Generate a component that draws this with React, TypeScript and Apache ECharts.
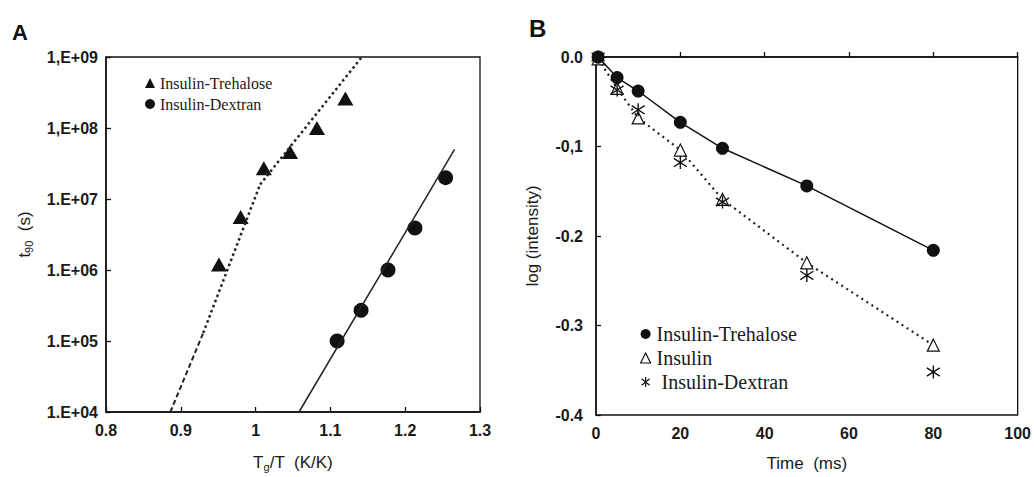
import React, { useEffect, useRef } from "react";
import * as echarts from "echarts";

// ---------- Panel A data ----------
const xTickLabelsA = ["0.8", "0.9", "1", "1.1", "1.2", "1.3"];
const yTickLabelsA = ["1.E+04", "1.E+05", "1.E+06", "1.E+07", "1,E+08", "1,E+09"];
const trehaloseTg = [0.951, 0.98, 1.011, 1.046, 1.082, 1.12];
const trehaloseT90 = [1.2e6, 5.6e6, 2.7e7, 4.6e7, 1.0e8, 2.6e8];
const dextranTg = [1.109, 1.141, 1.177, 1.213, 1.254];
const dextranT90 = [1.0e5, 2.7e5, 1.0e6, 3.9e6, 2.0e7];
// fitted lines
const trehaloseFitDashTg = [0.886, 0.93];
const trehaloseFitDashT90 = [1.0e4, 1.3e5];
const trehaloseFitLowTg = [0.93, 1.006];
const trehaloseFitLowT90 = [1.3e5, 1.6e7];
const trehaloseFitHighTg = [1.006, 1.142];
const trehaloseFitHighT90 = [1.6e7, 1.0e9];
const dextranFitTg = [1.058, 1.266];
const dextranFitT90 = [1.0e4, 5.0e7];

// ---------- Panel B data ----------
const xTickLabelsB = ["0", "20", "40", "60", "80", "100"];
const yTickLabelsB = ["-0.4", "-0.3", "-0.2", "-0,1", "0.0"];
const timeMs = [0.5, 5, 10, 20, 30, 50, 80];
const trehaloseLog = [0, -0.023, -0.038, -0.073, -0.102, -0.144, -0.216];
const insulinLog = [-0.002, -0.035, -0.068, -0.104, -0.159, -0.23, -0.322];
const dextranLog = [0, -0.037, -0.059, -0.118, -0.162, -0.244, -0.352];

const ASTERISK = "path://M5,0L5,10M1,1.8L9,8.2M1,8.2L9,1.8";
const INK = "#111";
const SANS = "'Liberation Sans', Arial, sans-serif";
const SERIF = "'Liberation Serif', 'Times New Roman', serif";

const zip = (a: number[], b: number[]) => a.map((v, i) => [v, b[i]]);

export default function App() {
  const ref = useRef<HTMLDivElement>(null);
  useEffect(() => {
    document.body.style.margin = "0";
    const chart = echarts.init(ref.current!, null, { renderer: "svg" });
    const axisCommon = {
      axisLine: { show: true, lineStyle: { color: INK, width: 1.5 } },
      axisTick: { show: true, inside: true, length: 5, lineStyle: { color: INK, width: 1.3 } },
      splitLine: { show: false },
      axisLabel: { color: "#1a1a1a", fontFamily: SANS, fontSize: 16, fontWeight: "bold" },
      nameTextStyle: { color: "#1a1a1a", fontFamily: SANS, fontSize: 17 },
    };
    const nameRich = {
      n: { fontSize: 17, fontFamily: SANS, color: "#1a1a1a" },
      s: { fontSize: 11, fontFamily: SANS, color: "#1a1a1a", verticalAlign: "bottom", padding: [8, 0, 0, 0] },
    };
    const option: any = {
      animation: false,
      backgroundColor: "#fff",
      grid: [
        { left: 106, top: 57, width: 374, height: 355, show: true, borderColor: INK, borderWidth: 1.3, backgroundColor: "transparent" },
        { left: 596, top: 57, width: 423, height: 358, show: true, borderColor: INK, borderWidth: 1.3, backgroundColor: "transparent" },
      ],
      xAxis: [
        {
          ...axisCommon,
          gridIndex: 0,
          type: "value",
          min: 0.8,
          max: 1.3,
          interval: 0.1,
          axisLabel: {
            ...axisCommon.axisLabel,
            margin: 10,
            formatter: (v: number) => xTickLabelsA[Math.round((v - 0.8) / 0.1)] ?? "",
          },
          name: "{n|T}{s|g}{n|/T  (K/K)}",
          nameLocation: "middle",
          nameGap: 41,
          nameTextStyle: { rich: nameRich },
        },
        {
          ...axisCommon,
          gridIndex: 1,
          type: "value",
          min: 0,
          max: 100,
          interval: 20,
          axisLabel: {
            ...axisCommon.axisLabel,
            margin: 10,
            formatter: (v: number) => xTickLabelsB[Math.round(v / 20)] ?? "",
          },
          name: "Time  (ms)",
          nameLocation: "middle",
          nameGap: 40,
        },
      ],
      yAxis: [
        {
          ...axisCommon,
          gridIndex: 0,
          type: "log",
          logBase: 10,
          min: 1e4,
          max: 1e9,
          axisLabel: {
            ...axisCommon.axisLabel,
            margin: 8,
            formatter: (v: number) => yTickLabelsA[Math.round(Math.log10(v)) - 4] ?? "",
          },
          name: "{n|t}{s|90}{n|  (s)}",
          nameLocation: "middle",
          nameGap: 72,
          nameTextStyle: { rich: nameRich },
        },
        {
          ...axisCommon,
          gridIndex: 1,
          type: "value",
          min: -0.4,
          max: 0,
          interval: 0.1,
          axisLabel: {
            ...axisCommon.axisLabel,
            margin: 13,
            formatter: (v: number) => yTickLabelsB[Math.round((v + 0.4) / 0.1)] ?? "",
          },
          name: "log (intensity)",
          nameLocation: "middle",
          nameGap: 55,
        },
      ],
      legend: [
        {
          left: 140,
          top: 70,
          orient: "vertical",
          itemWidth: 10,
          itemHeight: 10,
          itemGap: 5,
          selectedMode: false,
          textStyle: { fontFamily: SERIF, fontSize: 16, color: "#1a1a1a", padding: [0, 0, 0, 0] },
          formatter: (name: string) => name.replace("A:", ""),
          data: [
            { name: "A:Insulin-Trehalose", icon: "triangle" },
            { name: "A:Insulin-Dextran", icon: "circle", itemStyle: { color: INK } },
          ],
        },
        {
          left: 635,
          top: 319,
          orient: "vertical",
          itemWidth: 10,
          itemHeight: 10,
          itemGap: 4,
          selectedMode: false,
          textStyle: { fontFamily: SERIF, fontSize: 20, color: "#1a1a1a", padding: [0, 0, 0, 1] },
          formatter: (name: string) => (name === "B:Insulin-Dextran" ? " " : "") + name.replace("B:", ""),
          data: [
            { name: "B:Insulin-Trehalose", icon: "circle" },
            { name: "B:Insulin", icon: "triangle", itemStyle: { color: "#fff", borderColor: INK, borderWidth: 1.2 } },
            { name: "B:Insulin-Dextran", icon: ASTERISK, itemStyle: { color: "rgba(0,0,0,0)", borderColor: INK, borderWidth: 1.2 } },
          ],
        },
      ],
      graphic: [
        { type: "text", left: 12, top: 21, style: { text: "A", fontFamily: SANS, fontWeight: "bold", fontSize: 22, fill: "#111" } },
        { type: "text", left: 529, top: 16, style: { text: "B", fontFamily: SANS, fontWeight: "bold", fontSize: 24, fill: "#111" } },
      ],
      series: [
        // Panel A fits
        {
          type: "line", xAxisIndex: 0, yAxisIndex: 0, symbol: "none", silent: true,
          data: zip(trehaloseFitDashTg, trehaloseFitDashT90),
          lineStyle: { color: "#222", width: 2, type: [5, 3] },
        },
        {
          type: "line", xAxisIndex: 0, yAxisIndex: 0, symbol: "none", silent: true,
          data: zip(trehaloseFitLowTg, trehaloseFitLowT90),
          lineStyle: { color: "#222", width: 2.5, type: [2.5, 3] },
        },
        {
          type: "line", xAxisIndex: 0, yAxisIndex: 0, symbol: "none", silent: true,
          data: zip(trehaloseFitHighTg, trehaloseFitHighT90),
          lineStyle: { color: "#222", width: 2.5, type: [2.5, 3] },
        },
        {
          type: "line", xAxisIndex: 0, yAxisIndex: 0, symbol: "none", silent: true,
          data: zip(dextranFitTg, dextranFitT90),
          lineStyle: { color: "#222", width: 1.5, type: "solid" },
        },
        {
          name: "A:Insulin-Trehalose", type: "scatter", xAxisIndex: 0, yAxisIndex: 0,
          symbol: "triangle", symbolSize: [16, 14],
          itemStyle: { color: INK, opacity: 1 },
          data: zip(trehaloseTg, trehaloseT90),
        },
        {
          name: "A:Insulin-Dextran", type: "scatter", xAxisIndex: 0, yAxisIndex: 0,
          symbol: "circle", symbolSize: 15,
          itemStyle: { color: INK, opacity: 1 },
          data: zip(dextranTg, dextranT90),
        },
        // Panel B
        {
          name: "B:Insulin", type: "line", xAxisIndex: 1, yAxisIndex: 1,
          symbol: "triangle", symbolSize: [12, 12], showAllSymbol: true,
          itemStyle: { color: "#fff", borderColor: INK, borderWidth: 1.2, opacity: 1 },
          lineStyle: { color: "#222", width: 2.2, type: [2, 4] },
          data: zip(timeMs, insulinLog),
          z: 3,
        },
        {
          name: "B:Insulin-Dextran", type: "scatter", xAxisIndex: 1, yAxisIndex: 1,
          symbol: ASTERISK, symbolSize: [13, 13],
          itemStyle: { color: "rgba(0,0,0,0)", borderColor: INK, borderWidth: 1.4, opacity: 1 },
          data: zip(timeMs, dextranLog),
          z: 4,
        },
        {
          name: "B:Insulin-Trehalose", type: "line", xAxisIndex: 1, yAxisIndex: 1,
          symbol: "circle", symbolSize: 13, showAllSymbol: true,
          itemStyle: { color: INK, opacity: 1 },
          lineStyle: { color: INK, width: 1.5 },
          data: zip(timeMs, trehaloseLog),
          z: 5,
        },
      ],
    };
    chart.setOption(option);
    return () => chart.dispose();
  }, []);
  return <div ref={ref} style={{ width: 1034, height: 477 }} />;
}
